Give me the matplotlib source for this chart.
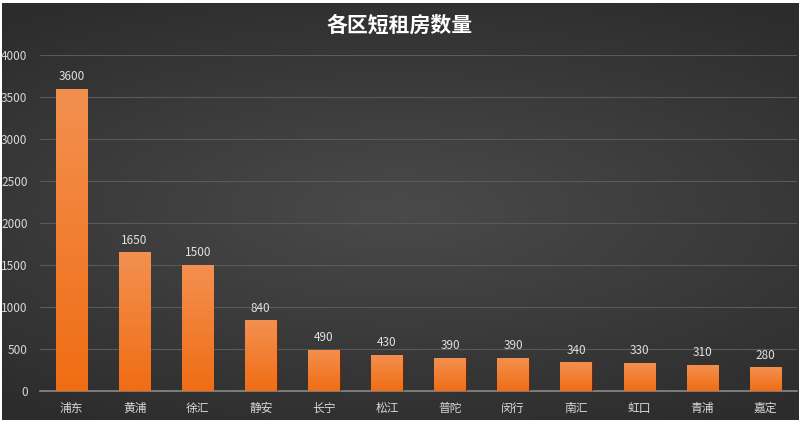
import numpy as np
import matplotlib
matplotlib.use("Agg")
import matplotlib.pyplot as plt
from matplotlib.colors import LinearSegmentedColormap

plt.rcParams['font.family'] = ['Noto Sans CJK SC', 'DejaVu Sans']

# data
districts = ['浦东', '黄浦', '徐汇', '静安', '长宁', '松江', '普陀', '闵行', '南汇', '虹口', '青浦', '嘉定']
counts = [3600, 1650, 1500, 840, 490, 430, 390, 390, 340, 330, 310, 280]
y_ticks = [0, 500, 1000, 1500, 2000, 2500, 3000, 3500, 4000]

fig = plt.figure(figsize=(8, 4.3), dpi=100, facecolor='white')

# dark background with a lighter centre
bg = fig.add_axes([0.002, 10 / 430, 0.996, 417 / 430])
yy, xx = np.mgrid[-1:1:200j, -1:1:400j]
r = np.sqrt((xx * 0.8) ** 2 + (yy * 1.1) ** 2)
bg_cmap = LinearSegmentedColormap.from_list('bg', ['#4a4a4a', '#2c2c2c'])
bg.imshow(r, cmap=bg_cmap, aspect='auto', extent=[0, 1, 0, 1], vmin=0, vmax=1.3)
bg.set_axis_off()

ax = fig.add_axes([40 / 800, 1 - 391 / 430, 757 / 800, 336 / 430])
ax.patch.set_alpha(0)

x = np.arange(len(districts))
bars = ax.bar(x, counts, width=0.5, color='#f07a2a', edgecolor='#6a2a08', linewidth=0.8, zorder=3)

# vertical gradient inside each bar
bar_cmap = LinearSegmentedColormap.from_list('bar', ['#f06d14', '#f39050'])
grad = np.linspace(0, 1, 100).reshape(-1, 1)
for b in bars:
    bx, by = b.get_x(), b.get_y()
    w, h = b.get_width(), b.get_height()
    im = ax.imshow(grad, cmap=bar_cmap, aspect='auto', origin='lower',
                   extent=[bx, bx + w, by, by + h], zorder=3.5)
    im.set_clip_path(b)

for xi, v in zip(x, counts):
    ax.text(xi, v + 70, str(v), ha='center', va='bottom', color='#e0e0e0', fontsize=8.5, zorder=5)

ax.set_xlim(-0.5, len(districts) - 0.5)
ax.set_ylim(0, 4000)
ax.set_yticks(y_ticks)
ax.set_xticks(x)
ax.set_xticklabels(districts)
ax.tick_params(axis='both', length=0, colors='#d8d8d8', labelsize=8.5)
ax.tick_params(axis='y', pad=9)
ax.tick_params(axis='x', pad=8)

ax.grid(axis='y', color='#5a5a5a', linewidth=0.8, zorder=0)
for s in ['top', 'right', 'left']:
    ax.spines[s].set_visible(False)
ax.spines['bottom'].set_color('#8a8a8a')
ax.spines['bottom'].set_linewidth(1.2)

fig.text(0.5, 1 - 25 / 430, '各区短租房数量', ha='center', va='center',
         color='white', fontsize=15, fontweight='bold')

fig.savefig('out.png', dpi=100, facecolor=fig.get_facecolor())
